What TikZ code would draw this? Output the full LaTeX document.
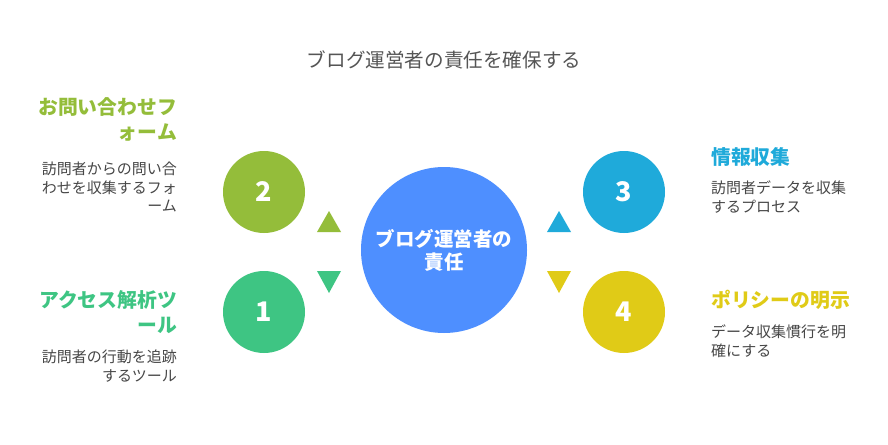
\documentclass[tikz,border=0pt]{standalone}
\usepackage{fontspec}
\setmainfont{Noto Sans CJK JP}
\newfontfamily\cjk{Noto Sans CJK JP}
\usetikzlibrary{positioning}
\definecolor{cGreenY}{HTML}{94BD3A}
\definecolor{cGreen}{HTML}{3EC583}
\definecolor{cBlue}{HTML}{1FAADA}
\definecolor{cYellow}{HTML}{E0CB17}
\definecolor{cCenter}{HTML}{4E8FFF}
\definecolor{cText}{HTML}{474747}
\definecolor{cTitle}{HTML}{555555}
\tikzset{
  numcircle/.style={circle, minimum size=82pt, inner sep=0pt, text=white, font=\cjk\bfseries\fontsize{27}{27}\selectfont},
  heading/.style={inner sep=0pt, font=\cjk\bfseries\fontsize{19.8}{25}\selectfont},
  bodytext/.style={inner sep=0pt, text=cText, font=\cjk\fontsize{15}{18.5}\selectfont},
}
\begin{document}
\begin{tikzpicture}[x=1pt,y=-1pt]
\useasboundingbox (0,0) rectangle (888,444);
\fill[white] (0,0) rectangle (888,444);
% title
\node[inner sep=0pt, text=cTitle, font=\cjk\fontsize{19.6}{22}\selectfont] (title) at (444,60) {ブログ運営者の責任を確保する};
% center
\node[circle, fill=cCenter, minimum size=166pt, inner sep=0pt, text=white, align=center,
      font=\cjk\bfseries\fontsize{19.5}{23}\selectfont] (center) at (444,250) {ブログ運営者の\\責任};
% number circles
\node[numcircle, fill=cGreenY] (c2) at (264,192) {2};
\node[numcircle, fill=cGreen] (c1) at (264,312) {1};
\node[numcircle, fill=cBlue] (c3) at (624,192) {3};
\node[numcircle, fill=cYellow] (c4) at (624,312) {4};
% triangles
\fill[cGreenY] (317,232) -- (341,232) -- (329,211) -- cycle;
\fill[cGreen] (317,271) -- (341,271) -- (329,293) -- cycle;
\fill[cBlue] (547,232) -- (571,232) -- (559,211) -- cycle;
\fill[cYellow] (547,271) -- (571,271) -- (559,293) -- cycle;
% left texts
\node[heading, text=cGreenY, anchor=east, align=right] (h2) at (177,119.5) {お問い合わせフ\\ォーム};
\node[bodytext, anchor=east, align=right] (b2) at (177,187) {訪問者からの問い合\\わせを収集するフォ\\ーム};
\node[heading, text=cGreen, anchor=east, align=right] (h1) at (177,312) {アクセス解析ツ\\ール};
\node[bodytext, anchor=east, align=right] (b1) at (177,366) {訪問者の行動を追跡\\するツール};
% right texts
\node[heading, text=cBlue, anchor=west, align=left] (h3) at (711,157) {情報収集};
\node[bodytext, anchor=west, align=left] (b3) at (711,197) {訪問者データを収集\\するプロセス};
\node[heading, text=cYellow, anchor=west, align=left] (h4) at (711,300) {ポリシーの明示};
\node[bodytext, anchor=west, align=left] (b4) at (711,341) {データ収集慣行を明\\確にする};
\end{tikzpicture}
\end{document}
